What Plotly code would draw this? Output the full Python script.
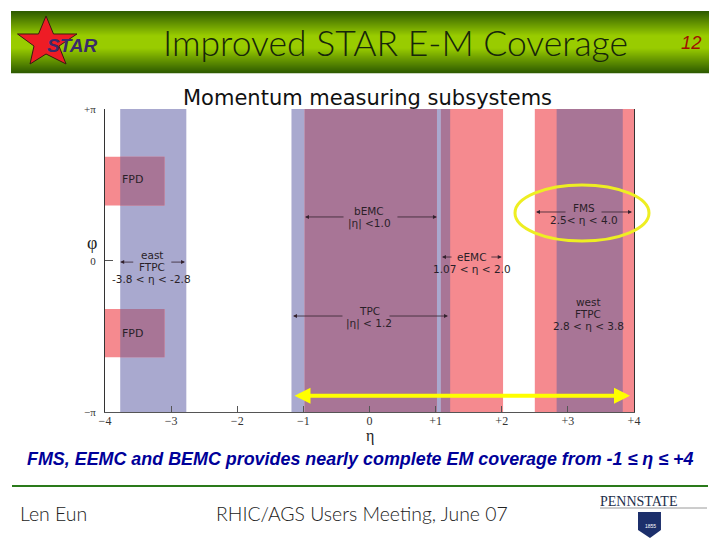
import math
import plotly.graph_objects as go

W, H = 720, 540
PAGE_MARGIN = 8     # the browser's default body margin moves the whole figure

# ---------------- detector coverage (eta / phi) ----------------
east_ftpc = (-3.77, -2.77)
tpc = (-1.18, 1.22)
west_ftpc = (2.83, 3.83)
bemc = (-0.98, 1.02)
eemc = (1.08, 2.02)
fms = (2.5, 4.0)
fpd_eta = (-4.0, -3.1)
fpd_upper_phi = (1.14, 2.15)
fpd_lower_phi = (-2.0, -1.0)

eta_ticks = [-4, -3, -2, -1, 0, 1, 2, 3, 4]
eta_labels = ['−4', '−3', '−2', '−1', '0', '+1', '+2', '+3', '+4']
phi_ticks = [-math.pi, 0, math.pi]
phi_labels = ['−π', '0', '+π']

# tail eta, head eta, phi
range_arrows = [
    (-0.37, -0.975, 0.905), (0.40, 1.02, 0.905),      # bEMC
    (-0.386, -1.157, -1.147), (0.28, 1.187, -1.147),  # TPC
    (1.263, 1.096, 0.075), (1.82, 2.0, 0.075),        # eEMC
    (2.987, 2.518, 1.008), (3.486, 3.97, 1.008),      # FMS
    (2.88, 2.85, -1.0), (3.74, 3.77, -1.0),           # west FTPC
    (-3.55, -3.77, -0.03), (-3.02, -2.79, -0.03),     # east FTPC
]
coverage_arrow = (-1.157, 3.94, -2.80)

BLUE = '#a9a9cf'
RED = '#f58a8f'
BOTH = '#a87596'
PHI_FULL = (-math.pi, math.pi)

blue_bands = [(east_ftpc, PHI_FULL), (tpc, PHI_FULL), (west_ftpc, PHI_FULL)]
red_bands = [(bemc, PHI_FULL), (eemc, PHI_FULL), (fms, PHI_FULL),
             (fpd_eta, fpd_upper_phi), (fpd_eta, fpd_lower_phi)]


def px(x):
    return (x - PAGE_MARGIN) / W


def py(y):
    return 1 - (y - PAGE_MARGIN) / H


def add_band(fig, eta, phi, color):
    fig.add_trace(go.Scatter(
        x=[eta[0], eta[1], eta[1], eta[0], eta[0]],
        y=[phi[0], phi[0], phi[1], phi[1], phi[0]],
        mode='lines', fill='toself', fillcolor=color,
        line=dict(width=0), hoverinfo='skip', showlegend=False
    ))


fig = go.Figure()

for eta, phi in blue_bands:
    add_band(fig, eta, phi, BLUE)
for eta, phi in red_bands:
    add_band(fig, eta, phi, RED)

# where both kinds of detector cover the same area
for b_eta, b_phi in blue_bands:
    for r_eta, r_phi in red_bands:
        lo, hi = max(b_eta[0], r_eta[0]), min(b_eta[1], r_eta[1])
        if lo < hi:
            add_band(fig, (lo, hi), (max(b_phi[0], r_phi[0]), min(b_phi[1], r_phi[1])), BOTH)

shapes = []

# ------------------------------ slide header ------------------------------
BAND_TOP, BAND_BOTTOM = 11, 73
for row in range(BAND_TOP, BAND_BOTTOM):
    t = 1 - abs((row + 0.5 - 42) / 31)
    t = min(1, t * 1.25)
    r = int(45 + (153 - 45) * t)
    g = int(90 + (204 - 90) * t)
    shapes.append(dict(type='rect', xref='paper', yref='paper',
                       x0=px(11), x1=px(709), y0=py(row), y1=py(row + 1.2),
                       fillcolor=f'rgb({r},{g},0)', line=dict(width=0), layer='below'))

star = [(46, 16), (53.5, 34), (77, 34), (59, 46), (66, 64), (46, 54),
        (30, 64), (34, 46), (17.5, 34), (38.5, 34)]
star_path = 'M ' + ' L '.join(f'{px(x):.4f},{py(y):.4f}' for x, y in star) + ' Z'
shapes.append(dict(type='path', xref='paper', yref='paper', path=star_path,
                   fillcolor='#ee1c25', line=dict(color='#3a1a10', width=1)))

# ------------------------------ plot overlays ------------------------------
shapes.append(dict(type='circle', xref='paper', yref='paper',
                   x0=px(515), x1=px(649), y0=py(185), y1=py(241),
                   line=dict(color='#eeee22', width=3)))

# ------------------------------ slide footer ------------------------------
shapes.append(dict(type='line', xref='paper', yref='paper',
                   x0=px(12), x1=px(708), y0=py(486), y1=py(486),
                   line=dict(color='#2a7a1a', width=2)))
shapes.append(dict(type='line', xref='paper', yref='paper',
                   x0=px(600), x1=px(707), y0=py(508), y1=py(508),
                   line=dict(color='#9a9a9a', width=1)))
shield = [(638, 512), (661, 512), (661, 530), (650, 538), (638, 530)]
shield_path = 'M ' + ' L '.join(f'{px(x):.4f},{py(y):.4f}' for x, y in shield) + ' Z'
shapes.append(dict(type='path', xref='paper', yref='paper', path=shield_path,
                   fillcolor='#1c2f6b', line=dict(width=0)))


def label(text, x, y, size=10.5, color='#2a1f28', family='DejaVu Sans', weight=None):
    font = dict(size=size, color=color, family=family)
    if weight:
        font['weight'] = weight
    return dict(text=text, x=px(x), y=py(y), xref='paper', yref='paper',
                showarrow=False, xanchor='center', yanchor='middle', font=font)


annotations = [
    label('Improved STAR E-M Coverage', 395, 42, size=35.5, color='#16260a', family='Lato', weight=300),
    label('<b><i>STAR</i></b>', 72, 45, size=19, color='#3a2a6a', family='Liberation Sans'),
    label('<i>12</i>', 691, 42, size=18.5, color='#a01000', family='Liberation Sans'),
    label('Momentum measuring subsystems', 367, 98, size=21, color='#111111'),

    label('FPD', 132, 179, size=11),
    label('FPD', 132, 333, size=11),
    label('east', 152, 255),
    label('FTPC', 152, 267),
    label('-3.8 &lt; η &lt; -2.8', 151, 279),
    label('bEMC', 369, 211),
    label('|η| &lt;1.0', 369, 223),
    label('TPC', 369, 311),
    label('|η| &lt; 1.2', 369, 323),
    label('eEMC', 472, 257),
    label('1.07 &lt; η &lt; 2.0', 472, 269),
    label('FMS', 584, 208),
    label('2.5&lt; η &lt; 4.0', 584, 220),
    label('west', 588, 302),
    label('FTPC', 588, 314),
    label('2.8 &lt; η &lt; 3.8', 588, 326),

    label('φ', 92, 243, size=18, color='#222222', family='Liberation Serif'),
    label('η', 370, 436, size=16, color='#222222', family='Liberation Serif'),

    label('<b><i>FMS, EEMC and BEMC provides nearly complete EM coverage from -1 ≤ η ≤ +4</i></b>',
          360, 459, size=17.9, color='#000099', family='Liberation Sans'),
    label('Len Eun', 53, 513, size=19.5, color='#222222', family='Lato', weight=300),
    label('RHIC/AGS Users Meeting, June 07', 362, 513, size=19.4, color='#222222', family='Lato', weight=300),
    label('PENNSTATE', 638, 501, size=14, color='#1c2f4b', family='Liberation Serif'),
    label('1855', 650, 526, size=5, color='#ffffff', family='Liberation Sans'),
]

for tail, head, phi in range_arrows:
    annotations.append(dict(
        x=head, y=phi, ax=tail, ay=phi, xref='x', yref='y', axref='x', ayref='y',
        text='', showarrow=True, arrowhead=2, arrowsize=1, arrowwidth=0.8, arrowcolor='#33222e'
    ))

# yellow coverage arrow, heads on both ends
annotations.append(dict(
    x=coverage_arrow[1], y=coverage_arrow[2], ax=coverage_arrow[0], ay=coverage_arrow[2],
    xref='x', yref='y', axref='x', ayref='y', text='', showarrow=True,
    arrowhead=2, startarrowhead=2, arrowside='end+start',
    arrowsize=0.8, startarrowsize=0.8, arrowwidth=4, arrowcolor='#ffff00'
))

fig.update_layout(
    width=W, height=H,
    margin=dict(l=0, r=0, t=0, b=0, autoexpand=False),
    paper_bgcolor='white', plot_bgcolor='white',
    showlegend=False,
    shapes=shapes,
    annotations=annotations,
    xaxis=dict(domain=[px(105), px(634)], range=[-4, 4], tickvals=eta_ticks, ticktext=eta_labels,
               ticks='inside', ticklen=6, tickcolor='#555555', showgrid=False, zeroline=False,
               showline=True, linecolor='#555555', linewidth=1, ticklabelstandoff=-3,
               tickfont=dict(family='Liberation Serif', size=12, color='#333333')),
    yaxis=dict(domain=[py(412.3), py(109)], range=[-math.pi, math.pi], tickvals=phi_ticks, ticktext=phi_labels,
               ticks='inside', ticklen=8, tickcolor='#555555', showgrid=False, zeroline=False,
               showline=True, linecolor='#333333', linewidth=1, mirror=True, ticklabelstandoff=6,
               tickfont=dict(family='Liberation Serif', size=11, color='#333333')),
)

fig.write_html("out.html")
